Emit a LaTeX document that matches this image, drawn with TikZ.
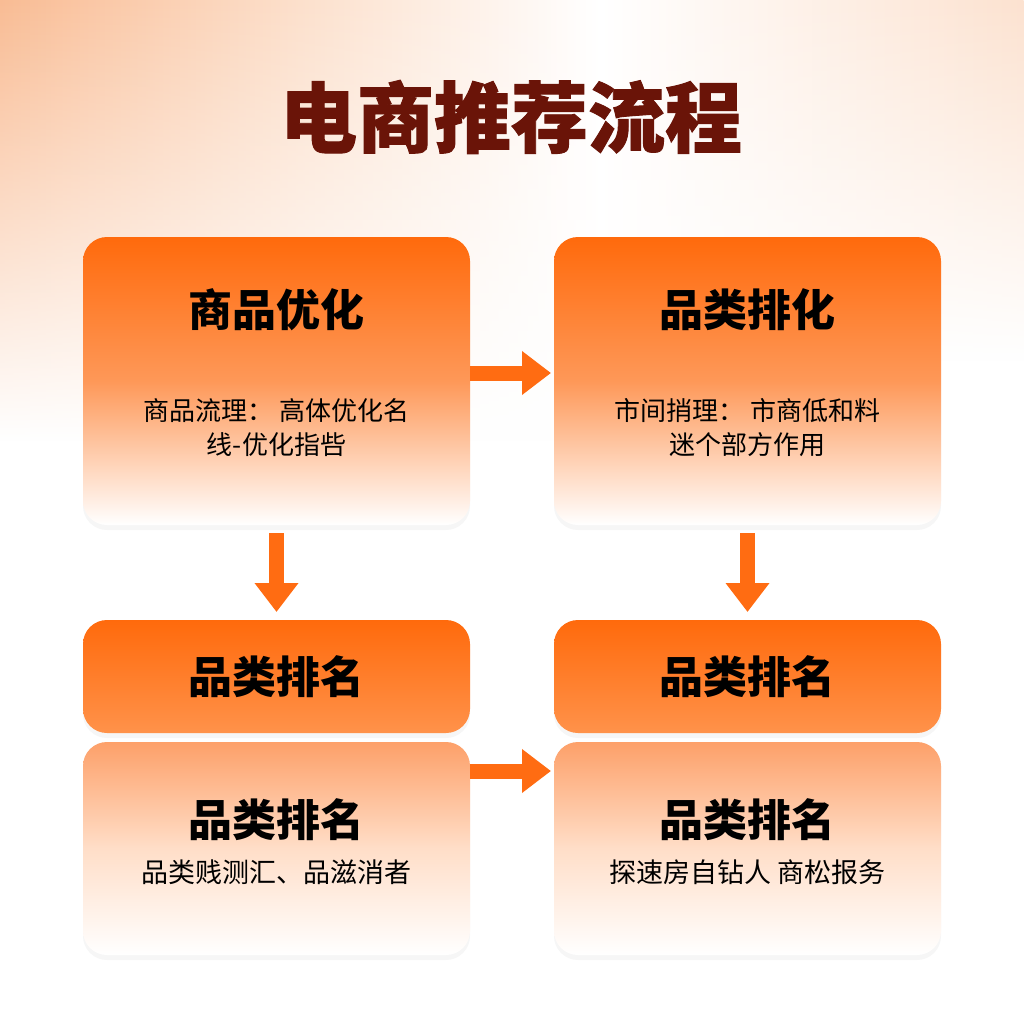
\documentclass[tikz,border=0pt]{standalone}
\usepackage{fontspec}
\setmainfont{Noto Sans CJK SC}
\newfontfamily\heavyfont{Noto Sans CJK SC}[BoldFeatures={FakeBold=1.2}]
\usepackage{xcolor}
\usepackage{tikz}
\usetikzlibrary{positioning, arrows.meta, shadows, fadings}
\definecolor{brandorange}{RGB}{255,106,12}
\definecolor{arroworange}{RGB}{255,108,18}
\definecolor{midorange}{RGB}{254,152,88}
\definecolor{softorange}{RGB}{253,160,105}
\definecolor{paleorange}{RGB}{255,222,200}
\definecolor{lightorange}{RGB}{255,146,74}
\definecolor{titlebrown}{RGB}{106,20,8}
\definecolor{peach}{RGB}{249,188,148}
\definecolor{peachmid}{RGB}{252,224,204}
\definecolor{peachlight}{RGB}{252,226,208}
\tikzstyle{stagebox} = [rectangle, rounded corners=24pt, outer sep=0pt, minimum width=387pt, minimum height=288pt, top color=brandorange, bottom color=white, middle color=midorange, drop shadow={opacity=0.07, shadow xshift=0pt, shadow yshift=-5pt}]
\tikzstyle{headbox} = [rectangle, rounded corners=24pt, outer sep=0pt, minimum width=387pt, minimum height=113pt, top color=brandorange, bottom color=lightorange, drop shadow={opacity=0.07, shadow xshift=0pt, shadow yshift=-5pt}]
\tikzstyle{detailbox} = [rectangle, rounded corners=24pt, outer sep=0pt, minimum width=387pt, minimum height=213pt, top color=softorange, bottom color=white, middle color=paleorange, drop shadow={opacity=0.07, shadow xshift=0pt, shadow yshift=-5pt}]
\tikzstyle{titletext} = [text=titlebrown, font=\heavyfont\bfseries\fontsize{77pt}{84pt}\selectfont]
\tikzstyle{boxtitle} = [text=black, font=\bfseries\fontsize{44pt}{50pt}\selectfont]
\tikzstyle{boxtext} = [text=black, align=center, font=\fontsize{26pt}{34pt}\selectfont]
\tikzstyle{flow} = [-{Triangle[width=42pt,length=29pt]}, line width=15pt, draw=arroworange]

\begin{document}
\begin{tikzpicture}[x=1pt, y=1pt]

% background
\useasboundingbox (0,0) rectangle (1024,-1024);
\fill[white] (0,0) rectangle (1024,-1024);
\shade[left color=peach, right color=white, middle color=peachmid, path fading=south] (0,0) rectangle (600,-440);
\shade[left color=white, right color=peachlight, path fading=south] (600,0) rectangle (1024,-360);

% title
\node[titletext] (title) at (511,-117) {电商推荐流程};

% top row
\node[stagebox] (prodopt) at (276.5,-381) {};
\node[stagebox, right=84pt of prodopt] (catopt) {};

% bottom row: header and detail
\node[headbox, below=95pt of prodopt] (rankL) {};
\node[headbox, below=95pt of catopt] (rankR) {};
\node[detailbox, below=9pt of rankL] (detailL) {};
\node[detailbox, below=9pt of rankR] (detailR) {};

% texts
\node[boxtitle] (prodopt_t) at ([yshift=-73pt]prodopt.north) {商品优化};
\node[boxtext] (prodopt_d) at ([yshift=-191pt]prodopt.north) {商品流理：\ 高体优化名\\线-优化指呰};
\node[boxtitle] (catopt_t) at ([yshift=-73pt]catopt.north) {品类排化};
\node[boxtext] (catopt_d) at ([yshift=-191pt]catopt.north) {市间捎理：\ 市商低和料\\迷个部方作用};
\node[boxtitle] (rankL_t) at (rankL) {品类排名};
\node[boxtitle] (rankR_t) at (rankR) {品类排名};
\node[boxtitle] (detailL_t) at ([yshift=-78pt]detailL.north) {品类排名};
\node[boxtext, font=\fontsize{27pt}{34pt}\selectfont] (detailL_d) at ([yshift=-130pt]detailL.north) {品类贱测汇、品滋消者};
\node[boxtitle] (detailR_t) at ([yshift=-78pt]detailR.north) {品类排名};
\node[boxtext, font=\fontsize{27pt}{34pt}\selectfont] (detailR_d) at ([yshift=-130pt]detailR.north) {探速房自钻人 商松报务};

% arrows
\draw[flow, shorten >=3pt] ([yshift=8pt]prodopt.east) -- ([yshift=8pt]catopt.west);
\draw[flow, shorten <=8pt, shorten >=8pt] (prodopt.south) -- (rankL.north);
\draw[flow, shorten <=8pt, shorten >=8pt] (catopt.south) -- (rankR.north);
\draw[flow, shorten >=3pt] ([yshift=-29pt]detailL.north east) -- ([yshift=-29pt]detailR.north west);

\end{tikzpicture}
\end{document}
